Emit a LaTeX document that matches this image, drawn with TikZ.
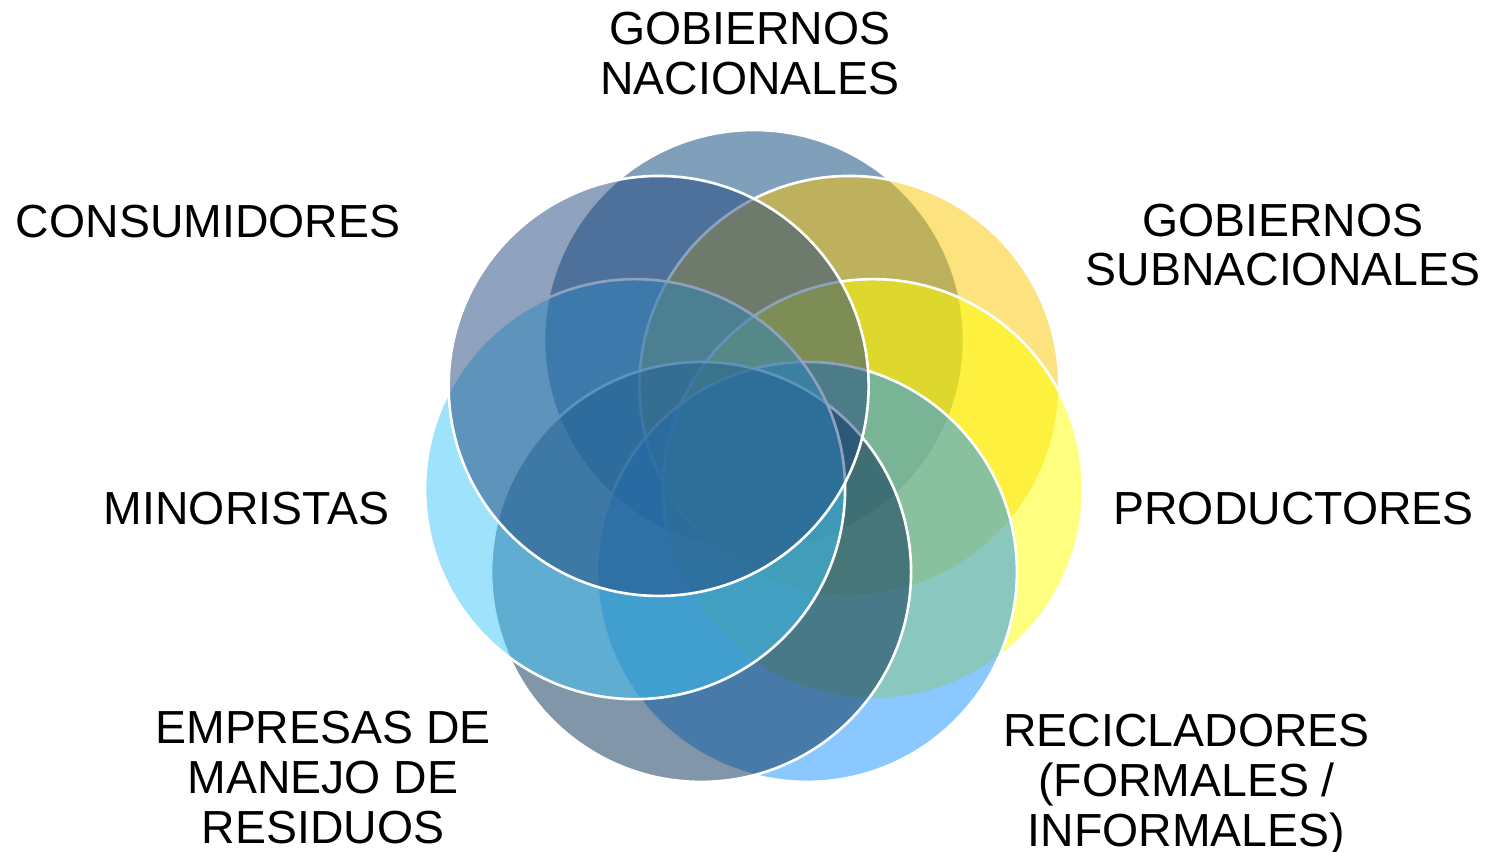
\documentclass[tikz,border=0pt]{standalone}
\usepackage{fontspec}
\setmainfont{Liberation Sans}
\usepackage{tikz}
\usepackage{xcolor}
\definecolor{nacblue}{RGB}{0,64,120}
\definecolor{subgold}{RGB}{251,197,1}
\definecolor{prodyellow}{RGB}{255,255,0}
\definecolor{recblue}{RGB}{23,145,255}
\definecolor{empnavy}{RGB}{5,45,85}
\definecolor{minsky}{RGB}{61,197,249}
\definecolor{consblue}{RGB}{31,69,125}

\begin{document}
\begin{tikzpicture}[
  ring/.style={draw=white, line width=0.75pt, fill opacity=0.5},
  actor/.style={align=center, inner sep=0pt, font=\fontsize{13.2}{14.2}\selectfont}
]
\useasboundingbox (0,0) rectangle (14.89,-8.52);
\coordinate (mid) at (7.54,-4.62);
% seven circles, clockwise from the top
\foreach \ang/\col in {90/nacblue, 38.57/subgold, -12.86/prodyellow, -64.29/recblue,
  -115.71/empnavy, -167.14/minsky, 141.43/consblue}
  \draw[ring, fill=\col] (mid) ++(\ang:1.22) circle (2.1);
% labels
\node[actor] (nac) at (7.50,-0.535) {GOBIERNOS\\NACIONALES};
\node[actor] (subnac) at (12.83,-2.45) {GOBIERNOS\\SUBNACIONALES};
\node[actor] (prod) at (12.935,-5.09) {PRODUCTORES};
\node[actor] (recic) at (11.865,-7.85) {RECICLADORES\\(FORMALES /\\INFORMALES)};
\node[actor] (empr) at (3.23,-7.775) {EMPRESAS DE\\MANEJO DE\\RESIDUOS};
\node[actor] (minor) at (2.465,-5.09) {MINORISTAS};
\node[actor] (consum) at (2.08,-2.22) {CONSUMIDORES};
\end{tikzpicture}
\end{document}
